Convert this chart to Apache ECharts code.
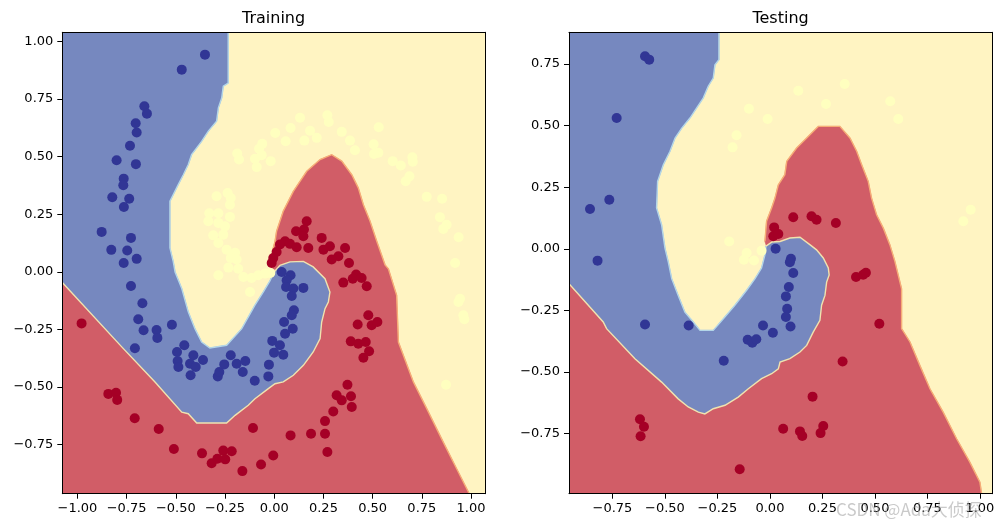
<!DOCTYPE html>
<html><head><meta charset="utf-8">
<script src="https://cdn.jsdelivr.net/npm/echarts@6/dist/echarts.min.js"></script>
<style>html,body{margin:0;padding:0;background:#fff}#c{width:1005px;height:528px}</style>
</head><body><div id="c"></div>
<script>
// ---------- tick labels ----------
const trainTicksX = [-1.00,-0.75,-0.50,-0.25,0.00,0.25,0.50,0.75,1.00];
const trainTicksY = [-0.75,-0.50,-0.25,0.00,0.25,0.50,0.75,1.00];
const testTicksX  = [-0.75,-0.50,-0.25,0.00,0.25,0.50,0.75,1.00];
const testTicksY  = [-0.75,-0.50,-0.25,0.00,0.25,0.50,0.75];
const trainRangeX = [-1.077, 1.071], trainRangeY = [-0.963, 1.039];
const testRangeX  = [-0.957, 1.059], testRangeY  = [-0.994, 0.879];

// ---------- training scatter ----------
const trainRed = [[-0.979,-0.224],[-0.843,-0.530],[-0.804,-0.525],[-0.798,-0.556],[-0.709,-0.636],[-0.587,-0.682],[-0.510,-0.769],[-0.367,-0.788],[-0.318,-0.831],[-0.289,-0.811],[-0.259,-0.776],[-0.249,-0.814],[-0.216,-0.779],[-0.162,-0.865],[-0.108,-0.678],[-0.067,-0.836],[-0.005,-0.797],
[0.165,0.219],[0.111,0.176],[0.151,0.183],[0.148,0.154],[0.055,0.132],[0.029,0.118],[0.080,0.121],[0.114,0.106],[0.173,0.103],[0.012,0.086],[-0.005,0.060],[0.241,0.147],[0.283,0.111],[0.250,0.096],[0.360,0.103],[0.326,0.067],[0.292,0.053],[0.380,0.038],[-0.013,0.038],
[0.416,-0.012],[0.399,-0.030],[0.444,-0.027],[0.351,-0.047],[0.470,-0.063],[0.478,-0.189],[0.424,-0.229],[0.495,-0.232],[0.524,-0.218],[0.389,-0.302],[0.427,-0.312],[0.465,-0.305],[0.482,-0.345],[0.453,-0.373],[0.372,-0.490],[0.317,-0.536],[0.343,-0.558],[0.390,-0.540],[0.394,-0.587],[0.300,-0.606],[0.258,-0.648],[0.258,-0.703],[0.187,-0.703],[0.083,-0.710],[0.270,-0.782]];
const trainBlue = [[-0.352,0.942],[-0.470,0.877],[-0.660,0.718],[-0.647,0.686],[-0.704,0.644],[-0.699,0.604],[-0.733,0.547],[-0.801,0.484],[-0.703,0.467],[-0.765,0.404],[-0.767,0.375],[-0.823,0.323],[-0.737,0.317],[-0.764,0.281],[-0.877,0.173],[-0.728,0.147],[-0.828,0.095],[-0.747,0.092],[-0.699,0.056],[-0.765,0.038],
[-0.728,-0.062],[-0.670,-0.137],[-0.691,-0.206],[-0.664,-0.254],[-0.598,-0.253],[-0.594,-0.287],[-0.520,-0.230],[-0.708,-0.332],[-0.457,-0.319],[-0.494,-0.348],[-0.491,-0.387],[-0.487,-0.413],[-0.411,-0.362],[-0.428,-0.399],[-0.399,-0.413],[-0.425,-0.449],[-0.362,-0.383],[-0.287,-0.454],[-0.279,-0.435],[-0.254,-0.402],[-0.221,-0.362],[-0.191,-0.399],[-0.147,-0.387],[-0.160,-0.435],[-0.099,-0.473],[-0.030,-0.454],[-0.027,-0.403],[-0.010,-0.300],[-0.001,-0.351],
[0.038,-0.001],[0.083,-0.015],[0.063,-0.037],[0.060,-0.066],[0.097,-0.073],[0.148,-0.070],[0.089,-0.105],[0.100,-0.167],[0.089,-0.189],[0.050,-0.218],[0.094,-0.247],[0.055,-0.269],[0.029,-0.319],[0.046,-0.360]];
const trainYellow = [[0.005,0.602],[-0.061,0.555],[-0.077,0.534],[-0.188,0.513],[-0.179,0.487],[-0.098,0.490],[-0.064,0.506],[-0.018,0.480],[-0.089,0.454],[-0.293,0.328],[-0.237,0.342],[-0.221,0.320],[-0.225,0.291],[-0.330,0.254],[-0.284,0.254],[-0.335,0.219],[-0.225,0.238],[-0.284,0.212],[-0.250,0.197],[-0.310,0.158],[-0.259,0.161],[-0.284,0.125],[-0.242,0.096],[-0.199,0.082],[-0.221,0.060],[-0.191,0.053],[-0.233,0.018],
[-0.284,-0.015],[-0.183,0.013],[-0.157,-0.023],[-0.115,-0.027],[-0.081,-0.015],[-0.047,-0.008],[-0.123,-0.088],[-0.020,-0.005],
[0.131,0.668],[0.083,0.624],[0.058,0.566],[0.153,0.569],[0.182,0.612],[0.216,0.581],[0.270,0.679],[0.277,0.650],[0.343,0.607],[0.385,0.569],[0.410,0.527],[0.531,0.627],[0.505,0.553],[0.529,0.516],[0.507,0.511],[0.602,0.480],[0.643,0.461],[0.702,0.497],[0.704,0.477],[0.687,0.414],[0.668,0.393],[0.775,0.325],[0.853,0.317],[0.842,0.237],[0.876,0.204],[0.859,0.186],[0.937,0.150],[0.919,0.038],[0.944,-0.117],[0.936,-0.131],[0.961,-0.189],[0.966,-0.206],[0.873,-0.490]];

// ---------- testing scatter ----------
const testBlue = [[-0.595,0.782],[-0.575,0.768],[-0.730,0.531],[-0.765,0.199],[-0.857,0.162],[-0.821,-0.048],[0.027,0.000],[0.100,-0.040],[-0.595,-0.307],[-0.387,-0.311],[-0.220,-0.454],[-0.106,-0.369],[-0.084,-0.381],[-0.065,-0.367],[-0.033,-0.311],[0.014,-0.341],[0.095,-0.054],[0.111,-0.098],[0.090,-0.155],[0.076,-0.193],[0.082,-0.243],[0.076,-0.277],[0.098,-0.315]];
const testRed = [[0.020,0.087],[0.016,0.051],[0.040,0.060],[0.111,0.128],[0.198,0.132],[0.222,0.118],[0.314,0.105],[-0.619,-0.692],[-0.600,-0.722],[-0.616,-0.761],[-0.144,-0.895],[0.063,-0.730],[0.410,-0.114],[0.444,-0.105],[0.457,-0.097],[0.521,-0.304],[0.346,-0.457],[0.203,-0.600],[0.143,-0.741],[0.154,-0.760],[0.254,-0.719],[0.241,-0.748]];
const testYellow = [[-0.100,0.569],[-0.011,0.527],[-0.159,0.461],[-0.178,0.412],[-0.194,0.030],[-0.111,-0.017],[-0.124,-0.044],[-0.076,-0.047],[-0.040,-0.008],[0.135,0.642],[0.267,0.588],[0.356,0.669],[0.573,0.599],[0.611,0.527],[0.956,0.159],[0.921,0.112]];

// ---------- decision-boundary contours (training) ----------
const trainBY = [[-0.234,1.039],[-0.234,0.819],[-0.259,0.805],[-0.267,0.754],[-0.284,0.711],[-0.293,0.653],[-0.335,0.610],[-0.369,0.566],[-0.420,0.508],[-0.437,0.465],[-0.462,0.421],[-0.488,0.378],[-0.530,0.306],[-0.530,0.103],[-0.513,0.043],[-0.504,-0.001],[-0.470,-0.073],[-0.437,-0.174],[-0.403,-0.247],[-0.369,-0.305],[-0.327,-0.331],[-0.242,-0.319],[-0.165,-0.247],[-0.098,-0.145],[-0.056,-0.088],[-0.022,-0.040],[-0.001,-0.001]];
const trainBlob = [[-0.001,-0.001],[0.029,0.028],[0.080,0.043],[0.148,0.045],[0.198,0.021],[0.258,-0.030],[0.283,-0.088],[0.275,-0.131],[0.258,-0.160],[0.241,-0.218],[0.233,-0.290],[0.198,-0.348],[0.148,-0.406],[0.097,-0.449],[0.046,-0.478],[0.004,-0.486]];
const trainLow = [[0.004,-0.486],[-0.030,-0.507],[-0.098,-0.551],[-0.132,-0.579],[-0.199,-0.623],[-0.242,-0.656],[-0.394,-0.656],[-0.437,-0.616],[-0.470,-0.609],[-0.606,-0.478],[-0.775,-0.326],[-1.077,-0.047]];
const trainInner = [[0.05,-0.25]];
const trainRY = [[-0.011,0.016],[-0.005,0.103],[0.004,0.132],[0.012,0.176],[0.046,0.263],[0.097,0.349],[0.165,0.436],[0.233,0.487],[0.292,0.508],[0.343,0.480],[0.394,0.421],[0.427,0.364],[0.453,0.291],[0.487,0.219],[0.521,0.132],[0.563,0.030],[0.580,0.013],[0.622,-0.102],[0.631,-0.305],[0.656,-0.362],[0.707,-0.478],[0.775,-0.594],[0.859,-0.739],[0.927,-0.855],[0.991,-0.963]];

// ---------- decision-boundary contours (testing) ----------
const testBY = [[-0.243,0.879],[-0.243,0.768],[-0.262,0.747],[-0.270,0.693],[-0.294,0.660],[-0.318,0.612],[-0.349,0.572],[-0.381,0.531],[-0.420,0.490],[-0.452,0.450],[-0.476,0.396],[-0.508,0.341],[-0.535,0.274],[-0.540,0.166],[-0.516,0.098],[-0.500,0.003],[-0.484,-0.054],[-0.468,-0.121],[-0.437,-0.189],[-0.405,-0.257],[-0.365,-0.297],[-0.333,-0.331],[-0.270,-0.331],[-0.222,-0.284],[-0.167,-0.229],[-0.111,-0.168],[-0.071,-0.121],[-0.040,-0.078],[-0.024,-0.025],[-0.019,0.011]];
const testBlob = [[-0.019,0.011],[0.010,0.028],[0.048,0.030],[0.095,0.044],[0.143,0.047],[0.190,0.017],[0.222,-0.004],[0.254,-0.037],[0.278,-0.078],[0.282,-0.106],[0.270,-0.135],[0.262,-0.189],[0.246,-0.229],[0.238,-0.290],[0.206,-0.338],[0.175,-0.392],[0.143,-0.419],[0.095,-0.446],[0.048,-0.460]];
const testLow = [[0.048,-0.460],[0.040,-0.487],[0.008,-0.507],[-0.040,-0.527],[-0.103,-0.568],[-0.151,-0.602],[-0.214,-0.635],[-0.270,-0.649],[-0.310,-0.670],[-0.341,-0.663],[-0.389,-0.642],[-0.437,-0.609],[-0.516,-0.541],[-0.643,-0.446],[-0.778,-0.324],[-0.794,-0.297],[-0.957,-0.142]];
const testInner = [[0.06,-0.2]];
const testRY = [[-0.024,0.030],[-0.016,0.112],[0.008,0.166],[0.024,0.206],[0.040,0.260],[0.071,0.301],[0.080,0.355],[0.127,0.409],[0.175,0.450],[0.230,0.497],[0.333,0.497],[0.381,0.450],[0.413,0.396],[0.437,0.341],[0.468,0.274],[0.484,0.206],[0.508,0.138],[0.540,0.084],[0.571,0.017],[0.595,-0.051],[0.627,-0.162],[0.627,-0.324],[0.667,-0.378],[0.714,-0.473],[0.762,-0.568],[0.825,-0.663],[0.889,-0.771],[0.952,-0.866],[1.000,-0.947],[1.008,-0.994]];

// ---------- styles ----------
const C = {
  fillRed:'#d15d67', fillYellow:'#fff4c2', fillBlue:'#7688bf',
  lineBY:'#b3d6e8', lineRY:'#f6ad77', lineBR:'#f1e2ae',
  ptRed:'#a50026', ptYellow:'#ffffbf', ptBlue:'#313695'
};
const FONT = 'DejaVu Sans';
const fmt = v => (v < 0 ? '\u2212' : '') + Math.abs(v).toFixed(2);

function grids() {
  return [
    {left:62.3, top:32.3, width:422.7, height:461.4, show:true, backgroundColor:C.fillYellow, borderWidth:0},
    {left:569, top:32.3, width:423.3, height:461.4, show:true, backgroundColor:C.fillYellow, borderWidth:0}
  ];
}
function mainAxis(g, range, ticks, pos, isX) {
  return {
    gridIndex:g, type:'value', position:pos, min:range[0], max:range[1],
    axisLine:{show:true, onZero:false, lineStyle:{color:'#000', width:1}},
    axisTick:{show:true, inside:false, length:5, lineStyle:{color:'#000', width:1}, customValues:ticks},
    axisLabel:{show:true, customValues:ticks, formatter:fmt, color:'#000', fontSize:13, fontFamily:FONT, margin: isX ? 8 : 9},
    splitLine:{show:false}, z:10
  };
}
function frameAxis(g, range, pos) {
  return {gridIndex:g, type:'value', position:pos, min:range[0], max:range[1],
    axisLine:{show:true, onZero:false, lineStyle:{color:'#000', width:1}},
    axisTick:{show:false}, axisLabel:{show:false}, splitLine:{show:false}, z:10};
}
function poly(pts, color, xi, yi) {
  return {type:'custom', xAxisIndex:xi, yAxisIndex:yi, clip:true, silent:true, z:1, animation:false,
    data:[[pts[0][0], pts[0][1]]],
    renderItem:(params, api) => ({type:'polygon', shape:{points: pts.map(p => api.coord(p))}, style:{fill:color, stroke:color, lineWidth:0.5}})};
}
function pline(pts, color, xi, yi) {
  return {type:'custom', xAxisIndex:xi, yAxisIndex:yi, clip:true, silent:true, z:2, animation:false,
    data:[[pts[0][0], pts[0][1]]],
    renderItem:(params, api) => ({type:'polyline', shape:{points: pts.map(p => api.coord(p))}, style:{fill:null, stroke:color, lineWidth:1.4}})};
}
function dots(pts, color, xi, yi) {
  return {type:'scatter', xAxisIndex:xi, yAxisIndex:yi, data:pts, symbol:'circle', symbolSize:10,
    itemStyle:{color:color, opacity:1, borderWidth:0}, z:5, silent:true, animation:false};
}

const series = [];
// training regions
series.push(poly(trainLow.slice().reverse().concat(trainInner, trainRY, [[trainRangeX[0], trainRangeY[0]]]), C.fillRed, 0, 0));
series.push(poly([[trainRangeX[0], trainRangeY[1]]].concat(trainBY, trainBlob, trainLow), C.fillBlue, 0, 0));
series.push(pline(trainBY, C.lineBY, 0, 0));
series.push(pline(trainBlob.concat(trainLow), C.lineBR, 0, 0));
series.push(pline(trainRY, C.lineRY, 0, 0));
series.push(dots(trainRed, C.ptRed, 0, 0));
series.push(dots(trainYellow, C.ptYellow, 0, 0));
series.push(dots(trainBlue, C.ptBlue, 0, 0));
// testing regions
series.push(poly(testLow.slice().reverse().concat(testInner, testRY, [[testRangeX[0], testRangeY[0]]]), C.fillRed, 2, 2));
series.push(poly([[testRangeX[0], testRangeY[1]]].concat(testBY, testBlob, testLow), C.fillBlue, 2, 2));
series.push(pline(testBY, C.lineBY, 2, 2));
series.push(pline(testBlob.concat(testLow), C.lineBR, 2, 2));
series.push(pline(testRY, C.lineRY, 2, 2));
series.push(dots(testRed, C.ptRed, 2, 2));
series.push(dots(testYellow, C.ptYellow, 2, 2));
series.push(dots(testBlue, C.ptBlue, 2, 2));

const chart = echarts.init(document.getElementById('c'), null, {renderer:'canvas'});
chart.setOption({
  animation:false,
  backgroundColor:'#fff',
  grid: grids(),
  xAxis: [
    mainAxis(0, trainRangeX, trainTicksX, 'bottom', true), frameAxis(0, trainRangeX, 'top'),
    mainAxis(1, testRangeX, testTicksX, 'bottom', true), frameAxis(1, testRangeX, 'top')
  ],
  yAxis: [
    mainAxis(0, trainRangeY, trainTicksY, 'left', false), frameAxis(0, trainRangeY, 'right'),
    mainAxis(1, testRangeY, testTicksY, 'left', false), frameAxis(1, testRangeY, 'right')
  ],
  graphic: [
    {type:'text', x:273.6, y:18.5, z:20, style:{text:'Training', font:'16px "DejaVu Sans"', fill:'#000', align:'center', verticalAlign:'middle'}},
    {type:'text', x:780.6, y:18.5, z:20, style:{text:'Testing', font:'16px "DejaVu Sans"', fill:'#000', align:'center', verticalAlign:'middle'}},
    {type:'text', x:836, y:510, z:30, style:{text:'CSDN @Ada大侦探', font:'17px "Noto Sans CJK SC"', fill:'rgba(150,150,150,0.5)', align:'left', verticalAlign:'middle'}}
  ],
  series: series
});
</script></body></html>
